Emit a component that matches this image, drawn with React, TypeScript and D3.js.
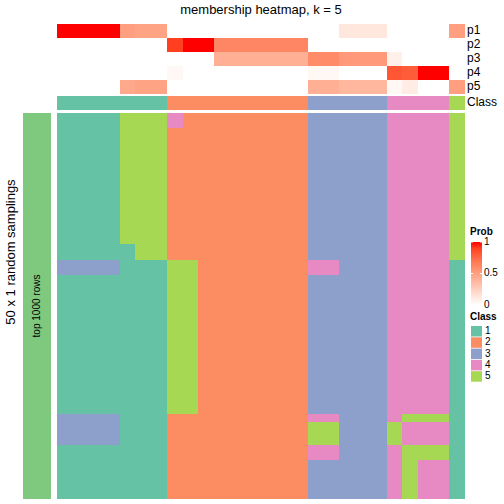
import React from "react";
import * as d3 from "d3";

const classes = ["1", "2", "3", "4", "5"];
const classColors = ["#66C2A5", "#FC8D62", "#8DA0CB", "#E78AC3", "#A6D854"];

// consensus class per column (26 columns)
const consensusClass = [1,1,1,1,1,1,1, 2,2,2,2,2,2,2,2,2, 3,3,3,3,3, 4,4,4,4, 5];

// membership probabilities per column
const p1 = [1,1,1,1,0.5,0.48,0.48, 0,0,0,0,0,0,0,0,0, 0,0,0.13,0.13,0.13, 0,0,0,0, 0.5];
const p2 = [0,0,0,0,0,0,0, 0.9,1,1,0.62,0.62,0.62,0.62,0.62,0.62, 0,0,0,0,0, 0,0,0,0, 0];
const p3 = [0,0,0,0,0,0,0, 0,0,0,0.42,0.42,0.42,0.42,0.42,0.42, 0.6,0.6,0.53,0.53,0.53, 0.08,0,0,0, 0];
const p4 = [0,0,0,0,0,0,0, 0.04,0,0,0,0,0,0,0,0, 0.04,0.04,0,0,0, 0.82,0.8,1,1, 0];
const p5 = [0,0,0,0,0.45,0.48,0.48, 0,0,0,0,0,0,0,0,0, 0.42,0.42,0.38,0.38,0.38, 0.04,0.1,0,0, 0.5];
const probRows = [p1, p2, p3, p4, p5];
const probLabels = ["p1", "p2", "p3", "p4", "p5"];

// class labels from 50 random samplings (rows) x 26 columns
const samplingRows = [
  "11115554222222223333344445",
  "11115554222222223333344445",
  "11115552222222223333344445",
  "11115552222222223333344445",
  "11115552222222223333344445",
  "11115552222222223333344445",
  "11115552222222223333344445",
  "11115552222222223333344445",
  "11115552222222223333344445",
  "11115552222222223333344445",
  "11115552222222223333344445",
  "11115552222222223333344445",
  "11115552222222223333344445",
  "11115552222222223333344445",
  "11115552222222223333344445",
  "11115552222222223333344445",
  "11115552222222223333344445",
  "11111552222222223333344445",
  "11111552222222223333344445",
  "33331115522222224433344441",
  "33331115522222224433344441",
  "11111115522222223333344441",
  "11111115522222223333344441",
  "11111115522222223333344441",
  "11111115522222223333344441",
  "11111115522222223333344441",
  "11111115522222223333344441",
  "11111115522222223333344441",
  "11111115522222223333344441",
  "11111115522222223333344441",
  "11111115522222223333344441",
  "11111115522222223333344441",
  "11111115522222223333344441",
  "11111115522222223333344441",
  "11111115522222223333344441",
  "11111115522222223333344441",
  "11111115522222223333344441",
  "11111115522222223333344441",
  "11111115522222223333344441",
  "33331112222222224433345551",
  "33331112222222225533354441",
  "33331112222222225533354441",
  "33331112222222225533354441",
  "11111112222222224433345551",
  "11111112222222224433345551",
  "11111112222222223333345441",
  "11111112222222223333345441",
  "11111112222222223333345441",
  "11111112222222223333345441",
  "11111112222222223333345441",
];

const legendTicks = [0, 0.5, 1];
const title = "membership heatmap, k = 5";

export default function App() {
  const nCols = consensusClass.length;
  const colIdx = d3.range(nCols).map(String);
  const x = d3.scaleBand().domain(colIdx).range([57, 465]).padding(0);
  const yAnno = d3.scaleBand().domain(probLabels).range([24, 94]).padding(0);
  const yMain = d3.scaleBand().domain(d3.range(samplingRows.length).map(String)).range([113, 499]).padding(0);
  const probColor = d3.scaleSequential(d3.interpolateLab("#FFFFFF", "#FF0000")).domain([0, 1]);
  const classColor = d3.scaleOrdinal<string, string>().domain(classes).range(classColors);
  const legY = d3.scaleLinear().domain([0, 1]).range([305, 242]);
  const font = "Liberation Sans, Arial, sans-serif";
  const gradStops = d3.range(0, 1.0001, 0.1);
  const lastCol = nCols - 1;
  const lastRow = samplingRows.length - 1;
  const cw = (c: number) => x.bandwidth() + (c < lastCol ? 1 : 0);

  return (
    <svg width={504} height={504} style={{ position: "absolute", left: 0, top: 0 }} fontFamily={font}>
      <defs>
        <linearGradient id="probGrad" x1="0" y1="1" x2="0" y2="0">
          {gradStops.map((t) => (
            <stop key={t} offset={t} stopColor={probColor(t)} />
          ))}
        </linearGradient>
      </defs>
      <rect width={504} height={504} fill="#fff" />
      <text x={261} y={11} textAnchor="middle" dominantBaseline="middle" fontSize={13}>{title}</text>

      {probRows.map((row, r) => (
        <g key={r}>
          {row.map((v, c) => (
            <rect key={c} x={x(String(c))} y={yAnno(probLabels[r])} width={cw(c)} height={yAnno.bandwidth() + (r < 4 ? 1 : 0)} fill={probColor(v)} shapeRendering="crispEdges" />
          ))}
          <text x={467} y={(yAnno(probLabels[r]) as number) + yAnno.bandwidth() / 2} dominantBaseline="middle" fontSize={12}>{probLabels[r]}</text>
        </g>
      ))}

      {consensusClass.map((k, c) => (
        <rect key={c} x={x(String(c))} y={96} width={cw(c)} height={14} fill={classColor(String(k))} shapeRendering="crispEdges" />
      ))}
      <text x={467} y={103} dominantBaseline="middle" fontSize={12}>Class</text>

      {samplingRows.map((row, r) =>
        row.split("").map((k, c) => (
          <rect key={r + "-" + c} x={x(String(c))} y={yMain(String(r))} width={cw(c)} height={yMain.bandwidth() + (r < lastRow ? 1 : 0)} fill={classColor(k)} shapeRendering="crispEdges" />
        ))
      )}

      <rect x={23} y={113} width={28} height={386} fill="#7FC97F" />
      <text transform={`translate(37,306) rotate(-90)`} textAnchor="middle" dominantBaseline="middle" fontSize={10}>top 1000 rows</text>
      <text transform={`translate(12,252) rotate(-90)`} textAnchor="middle" dominantBaseline="middle" fontSize={13}>50 x 1 random samplings</text>

      <text x={470} y={232} dominantBaseline="middle" fontSize={10} fontWeight="bold">Prob</text>
      <rect x={471} y={242} width={11} height={63} fill="url(#probGrad)" />
      {legendTicks.map((t) => (
        <g key={t}>
          {t > 0 && <line x1={471} x2={473} y1={legY(t)} y2={legY(t)} stroke="#fff" strokeWidth={1} />}
          {t > 0 && <line x1={480} x2={482} y1={legY(t)} y2={legY(t)} stroke="#fff" strokeWidth={1} />}
          <text x={484} y={legY(t)} dominantBaseline="middle" fontSize={10}>{String(t)}</text>
        </g>
      ))}

      <text x={470} y={317} dominantBaseline="middle" fontSize={10} fontWeight="bold">Class</text>
      {classes.map((k, i) => (
        <g key={k}>
          <rect x={471} y={326 + i * 11.3} width={11} height={10.5} fill={classColor(k)} />
          <text x={485} y={331.5 + i * 11.3} dominantBaseline="middle" fontSize={10}>{k}</text>
        </g>
      ))}
    </svg>
  );
}
